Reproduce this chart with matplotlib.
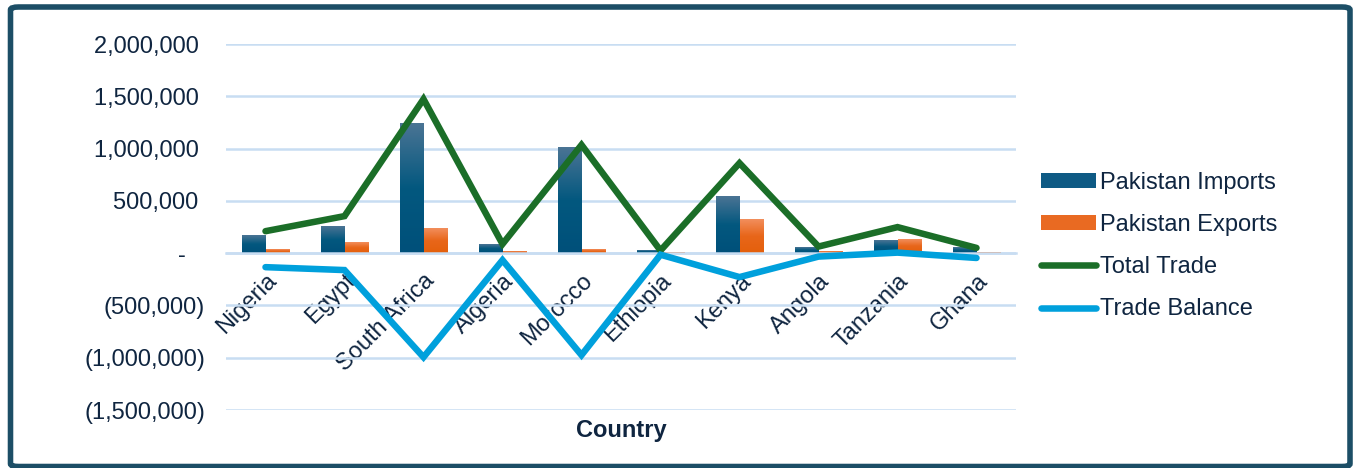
import matplotlib.pyplot as plt
import matplotlib.ticker as mticker
from matplotlib.patches import FancyBboxPatch
from matplotlib.colors import LinearSegmentedColormap
import numpy as np

plt.rcParams['font.family'] = ['Liberation Sans', 'DejaVu Sans']

# Datos (valores estimados de la imagen)
countries = ["Nigeria", "Egypt", "South Africa", "Algeria", "Morocco",
             "Ethiopia", "Kenya", "Angola", "Tanzania", "Ghana"]
imports = [172000, 258000, 1234000, 77000, 1005000, 20000, 545000, 48000, 122000, 48000]
exports = [38000, 96000, 239000, 10000, 30000, 5000, 316000, 15000, 127000, 2000]
total_trade = [210000, 354000, 1473000, 87000, 1035000, 25000, 861000, 63000, 249000, 50000]
trade_balance = [-134000, -162000, -995000, -67000, -975000, -15000, -229000, -33000, 5000, -46000]

text_color = '#0F2540'
c_imp = '#0E5A84'
c_exp = '#E96A22'
c_total = '#1B6E28'
c_bal = '#00A0DC'
grid_color = '#C8DDF2'

fig = plt.figure(figsize=(13.53, 4.68), dpi=100)
ax = fig.add_axes([226 / 1353, 1 - 410 / 468, 790 / 1353, 366 / 468])

x = np.arange(len(countries))
w = 0.3
b_imp = ax.bar(x - w / 2, imports, w, color=c_imp, label="Pakistan Imports", zorder=2)
b_exp = ax.bar(x + w / 2, exports, w, color=c_exp, label="Pakistan Exports", zorder=2)
ax.plot(x, total_trade, color=c_total, lw=4.7, solid_capstyle='round',
        solid_joinstyle='miter', label="Total Trade", zorder=3)
ax.plot(x, trade_balance, color=c_bal, lw=4.7, solid_capstyle='round',
        solid_joinstyle='miter', label="Trade Balance", zorder=3)

# Degradado vertical en las barras
cm_imp = LinearSegmentedColormap.from_list("imp", ['#00507A', '#03587F', '#4A7494'])
cm_exp = LinearSegmentedColormap.from_list("exp", ['#E4600C', '#E8661A', '#F28E5C'])
grad = np.linspace(0, 1, 100).reshape(-1, 1)
for bars, cm in [(b_imp, cm_imp), (b_exp, cm_exp)]:
    for p in bars:
        x0, y0 = p.get_x(), p.get_y()
        x1, y1 = x0 + p.get_width(), y0 + p.get_height()
        if y1 - y0 <= 0:
            continue
        ax.imshow(grad, extent=[x0, x1, y0, y1], origin='lower', aspect='auto',
                  cmap=cm, zorder=2.1, interpolation='bilinear')
ax.set_xlim(-0.5, len(countries) - 0.5)
ax.set_ylim(-1500000, 2000000)
ax.set_yticks(np.arange(-1500000, 2000001, 500000))


def acct(v, pos):
    if v == 0:
        return "-   "
    if v < 0:
        return "({:,.0f})".format(-v)
    return "{:,.0f} ".format(v)


ax.yaxis.set_major_formatter(mticker.FuncFormatter(acct))
ax.yaxis.grid(True, color=grid_color, lw=1.8, zorder=0)
ax.set_axisbelow(True)

for s in ['top', 'right', 'left']:
    ax.spines[s].set_visible(False)
ax.spines['bottom'].set_position(('data', 0))
ax.spines['bottom'].set_color(grid_color)
ax.spines['bottom'].set_linewidth(1.8)

ax.set_xticks(x)
ax.set_xticklabels(countries, rotation=45, ha='right', va='top',
                   rotation_mode='anchor')
ax.tick_params(axis='x', length=0, pad=12, labelsize=17, labelcolor=text_color)
ax.tick_params(axis='y', length=0, pad=15, labelsize=17, labelcolor=text_color)

fig.text(621 / 1353, 1 - 430 / 468, "Country", ha='center', va='center',
         fontsize=17, fontweight='bold', color=text_color)

handles, labels = ax.get_legend_handles_labels()
order = [labels.index(l) for l in ["Pakistan Imports", "Pakistan Exports",
                                    "Total Trade", "Trade Balance"]]
leg = fig.legend([handles[i] for i in order], [labels[i] for i in order],
                 loc='center left', bbox_to_anchor=(1020 / 1353, 1 - 246 / 468),
                 frameon=False, fontsize=17, handlelength=2.3,
                 handletextpad=0.2, labelspacing=0.86, handleheight=0.6)
for t in leg.get_texts():
    t.set_color(text_color)

# Marco exterior
frame = FancyBboxPatch((10.5 / 1353, 1.5 / 468), 1339.5 / 1353, 459.5 / 468,
                       boxstyle="round,pad=0,rounding_size=0.006",
                       transform=fig.transFigure, fill=False,
                       edgecolor='#1C4E66', lw=4)
fig.patches.append(frame)

plt.savefig("out.png", dpi=100)
